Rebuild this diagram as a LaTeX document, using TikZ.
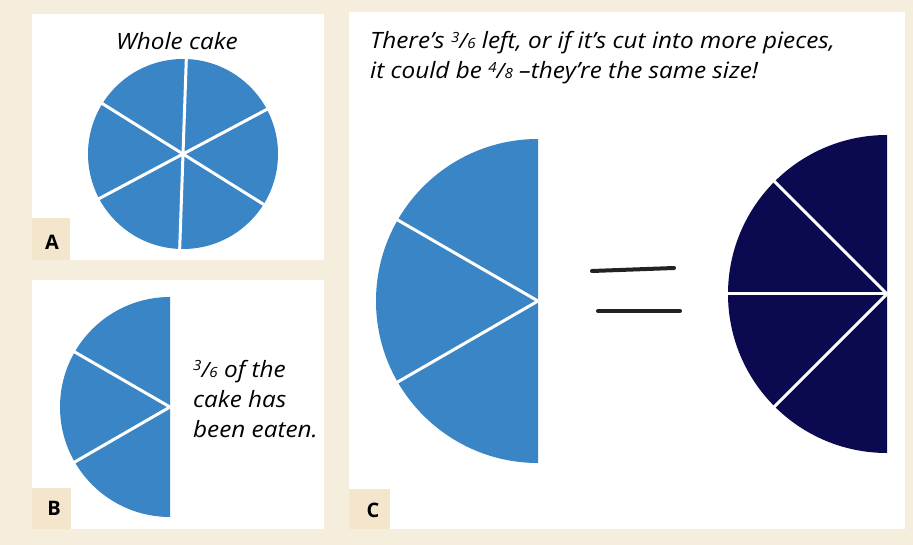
\documentclass[tikz,border=0pt]{standalone}
\usepackage{fontspec}
\setmainfont{Open Sans}[FakeStretch=1.08]
\newfontfamily\labfont{Open Sans}
\definecolor{bgbeige}{HTML}{F6EEDC}
\definecolor{labbeige}{HTML}{F3E6CC}
\definecolor{cakeblue}{HTML}{3A85C6}
\definecolor{cakenavy}{HTML}{0B0A50}
\definecolor{eqgray}{HTML}{222222}
\newcommand\myfrac[2]{\raisebox{0.55ex}{\fontsize{14}{14}\selectfont #1}{\fontsize{21}{21}\selectfont /}{\fontsize{14}{14}\selectfont #2}}
\tikzset{
  panel/.style={fill=white, draw=none},
  labbox/.style={fill=labbeige, draw=none},
  lablet/.style={font=\labfont\fontsize{20}{20}\selectfont\bfseries, inner sep=0pt},
  txt/.style={font=\fontsize{22.5}{30}\selectfont\itshape, inner sep=0pt, anchor=base west, text=black},
  cut/.style={white, line width=3pt},
  eqline/.style={eqgray, line width=4pt, line cap=round},
}
\begin{document}
\begin{tikzpicture}[x=1pt,y=-1pt]
\fill[bgbeige] (0,0) rectangle (913,545);
\useasboundingbox (0,0) rectangle (913,545);
% panels
\fill[panel] (32,14) rectangle (324,260);
\fill[panel] (32,280) rectangle (324,529);
\fill[panel] (349,12) rectangle (905,529);
% label boxes
\fill[labbox] (32,218) rectangle (70,260);
\fill[labbox] (32,488) rectangle (71,529);
\fill[labbox] (349,489) rectangle (390,529);
\node[lablet] (la) at (52,242) {A};
\node[lablet] (lb) at (54,508) {B};
\node[lablet] (lc) at (373,510) {C};
% panel A
\node[txt, anchor=base] (ta) at (177,50) {Whole cake};
\coordinate (ca) at (183,154);
\fill[cakeblue] (ca) circle[radius=95];
\foreach \a in {92,32,-28,-88,152,212}
  \draw[cut] (ca) -- ++(\a:97);
% panel B
\coordinate (cb) at (170,407);
\fill[cakeblue] (cb) ++(90:110) arc[start angle=90,end angle=270,radius=110] -- cycle;
\foreach \a in {150,210}
  \draw[cut] (cb) -- ++(\a:112);
\node[txt] (tb1) at (193,377) {\myfrac{3}{6} of the};
\node[txt] (tb2) at (193,407) {cake has};
\node[txt] (tb3) at (193,437) {been eaten.};
% panel C text
\node[txt] (tc1) at (370,49) {There’s \myfrac{3}{6} left, or if it’s cut into more pieces,};
\node[txt] (tc2) at (370,79) {it could be \myfrac{4}{8} –they’re the same size!};
% light half cake
\coordinate (cc) at (538,301);
\fill[cakeblue] (cc) ++(90:162) arc[start angle=90,end angle=270,radius=162] -- cycle;
\foreach \a in {150,210}
  \draw[cut] (cc) -- ++(\a:165);
% equals
\coordinate (e1) at (592,271);
\coordinate (e2) at (674,268);
\coordinate (e3) at (598,311);
\coordinate (e4) at (680,311);
\draw[eqline] (e1) -- (e2);
\draw[eqline] (e3) -- (e4);
% dark half cake
\coordinate (cd) at (887,294);
\fill[cakenavy] (cd) ++(90:159) arc[start angle=90,end angle=270,radius=159] -- cycle;
\foreach \a in {135,180,225}
  \draw[cut] (cd) -- ++(\a:162);
\end{tikzpicture}
\end{document}
